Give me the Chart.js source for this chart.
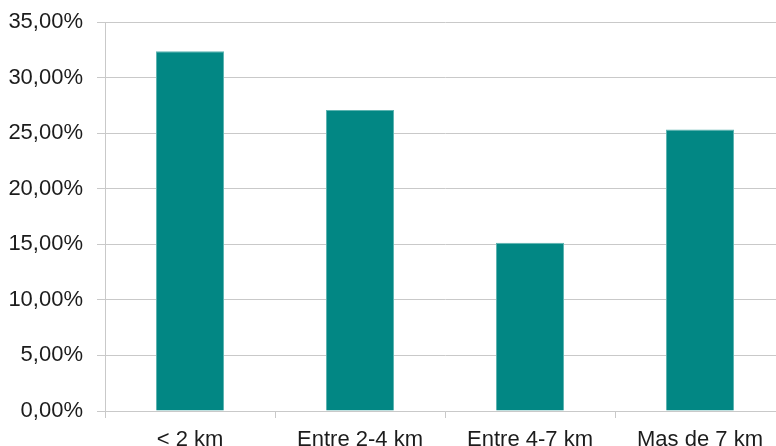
<!DOCTYPE html>
<html>
<head>
<meta charset="utf-8">
<script src="https://cdn.jsdelivr.net/npm/chart.js@4/dist/chart.umd.min.js"></script>
<style>
  html, body { margin: 0; padding: 0; background: #fff; overflow: hidden; }
  #wrap { position: relative; width: 790px; height: 446px; }
</style>
</head>
<body>
<div id="wrap"><canvas id="chart"></canvas></div>
<script>
// distancia al trabajo (% de respuestas)
const categories = ['< 2 km', 'Entre 2-4 km', 'Entre 4-7 km', 'Mas de 7 km'];
const shares = [32.36, 27.08, 15.14, 25.33];
const yMax = 35;
const yStep = 5;

const gridGray = '#c9c9c9';
const textColor = '#1c1c1c';
const fontSpec = { family: "'Liberation Sans', Arial, sans-serif", size: 22 };

new Chart(document.getElementById('chart'), {
    type: 'bar',
    data: {
        labels: categories,
        datasets: [{
            data: shares,
            backgroundColor: '#028784',
            borderColor: '#5db4b1',
            borderWidth: 1,
            categoryPercentage: 1,
            barPercentage: 0.4
        }]
    },
    options: {
        responsive: true,
        maintainAspectRatio: false,
        animation: false,
        layout: { padding: { top: 22, right: 5, bottom: 0, left: 0 } },
        plugins: { legend: { display: false }, tooltip: { enabled: false } },
        scales: {
            x: {
                grid: { offset: true, drawOnChartArea: false, drawTicks: true, tickLength: 7, color: gridGray },
                border: { color: gridGray, width: 1 },
                ticks: { color: textColor, font: fontSpec, padding: 9, maxRotation: 0 },
                afterFit: (axis) => { axis.height = 35; axis.paddingLeft = 0; axis.paddingRight = 0; }
            },
            y: {
                min: 0,
                max: yMax,
                grid: { color: gridGray, tickLength: 8, lineWidth: 1 },
                border: { color: gridGray, width: 1 },
                ticks: {
                    stepSize: yStep,
                    color: textColor,
                    font: fontSpec,
                    padding: 14,
                    callback: (v) => v.toFixed(2).replace('.', ',') + '%'
                },
                afterFit: (axis) => { axis.width = 105; axis.paddingTop = 0; axis.paddingBottom = 0; }
            }
        }
    }
});
</script>
</body>
</html>
